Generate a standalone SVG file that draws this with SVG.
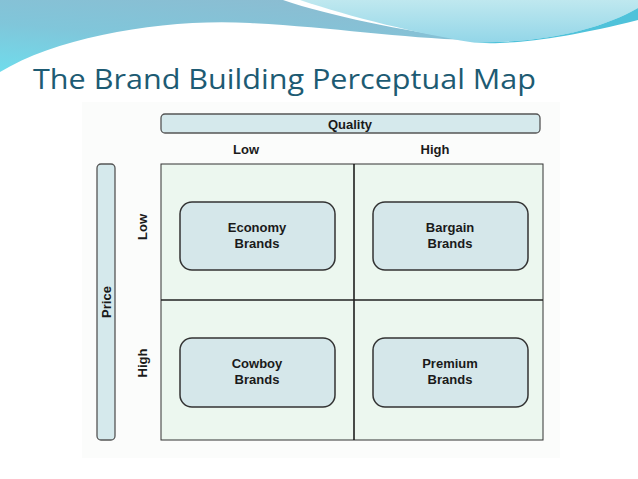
<svg xmlns="http://www.w3.org/2000/svg" width="638" height="479" viewBox="0 0 638 479">
<defs>
<linearGradient id="gLeft" x1="0" y1="1" x2="0.6" y2="0">
<stop offset="0" stop-color="#6fdcec"/>
<stop offset="0.5" stop-color="#80c6da"/>
<stop offset="1" stop-color="#8bbdd2"/>
</linearGradient>
<linearGradient id="gRight" x1="0" y1="0" x2="0" y2="1">
<stop offset="0" stop-color="#bfe8ef"/>
<stop offset="1" stop-color="#93d6e8"/>
</linearGradient>
<style>
.lbl{font-family:"Liberation Sans",Arial,sans-serif;font-weight:bold;font-size:13px;fill:#1a1a1a;text-anchor:middle}
.bar{fill:#d5e9ec;stroke:#555;stroke-width:1.3}
.cell{fill:#ecf7ef;stroke:#333;stroke-width:1}
.box rect{fill:#d5e7ea;stroke:#333;stroke-width:1.5}
</style>
</defs>
<rect width="638" height="479" fill="#ffffff"/>
<!-- top wave -->
<path d="M0,0 H283 C330,16 400,30 470,40 C400,38 330,27 250,23 C170,18 60,35 0,72 Z" fill="url(#gLeft)"/>
<path d="M300,0 H638 V8 C600,30 540,44 470,42 C420,34 350,17 300,0 Z" fill="url(#gRight)"/>
<path d="M638,8 C600,30 540,44 470,42 C500,46 560,40 638,20 Z" fill="#4fc2da"/>
<!-- title -->
<text x="33" y="89" font-family="'Open Sans','Noto Sans',sans-serif" font-size="27.5" fill="#1d5b73" textLength="503" lengthAdjust="spacingAndGlyphs">The Brand Building Perceptual Map</text>
<!-- diagram backdrop -->
<rect x="82" y="102" width="478" height="356" fill="#fbfcfb"/>
<g id="quality-axis">
<rect class="bar" x="161" y="114" width="379" height="19" rx="4"/>
<text class="lbl" x="350" y="129" font-size="12">Quality</text>
<text class="lbl" x="246" y="154" font-size="12">Low</text>
<text class="lbl" x="435" y="154" font-size="12">High</text>
</g>
<g id="price-axis">
<rect class="bar" x="97" y="164" width="18" height="276" rx="4"/>
<text class="lbl" font-size="12" transform="translate(111,302) rotate(-90)">Price</text>
<text class="lbl" font-size="12" transform="translate(147,227) rotate(-90)">Low</text>
<text class="lbl" font-size="12" transform="translate(147,363) rotate(-90)">High</text>
</g>
<g id="grid">
<rect class="cell" x="161" y="164" width="382" height="276"/>
<line x1="354" y1="164" x2="354" y2="440" stroke="#111" stroke-width="1.5"/>
<line x1="161" y1="300" x2="543" y2="300" stroke="#222" stroke-width="1.5"/>
</g>
<g id="economy" class="box">
<rect x="180" y="202" width="155" height="68" rx="12"/>
<text class="lbl" x="257" y="232">Economy</text>
<text class="lbl" x="257" y="248">Brands</text>
</g>
<g id="bargain" class="box">
<rect x="373" y="202" width="155" height="68" rx="12"/>
<text class="lbl" x="450" y="232">Bargain</text>
<text class="lbl" x="450" y="248">Brands</text>
</g>
<g id="cowboy" class="box">
<rect x="180" y="338" width="155" height="69" rx="12"/>
<text class="lbl" x="257" y="368">Cowboy</text>
<text class="lbl" x="257" y="384">Brands</text>
</g>
<g id="premium" class="box">
<rect x="373" y="338" width="155" height="69" rx="12"/>
<text class="lbl" x="450" y="368">Premium</text>
<text class="lbl" x="450" y="384">Brands</text>
</g>
<g id="connectors"/>
</svg>
